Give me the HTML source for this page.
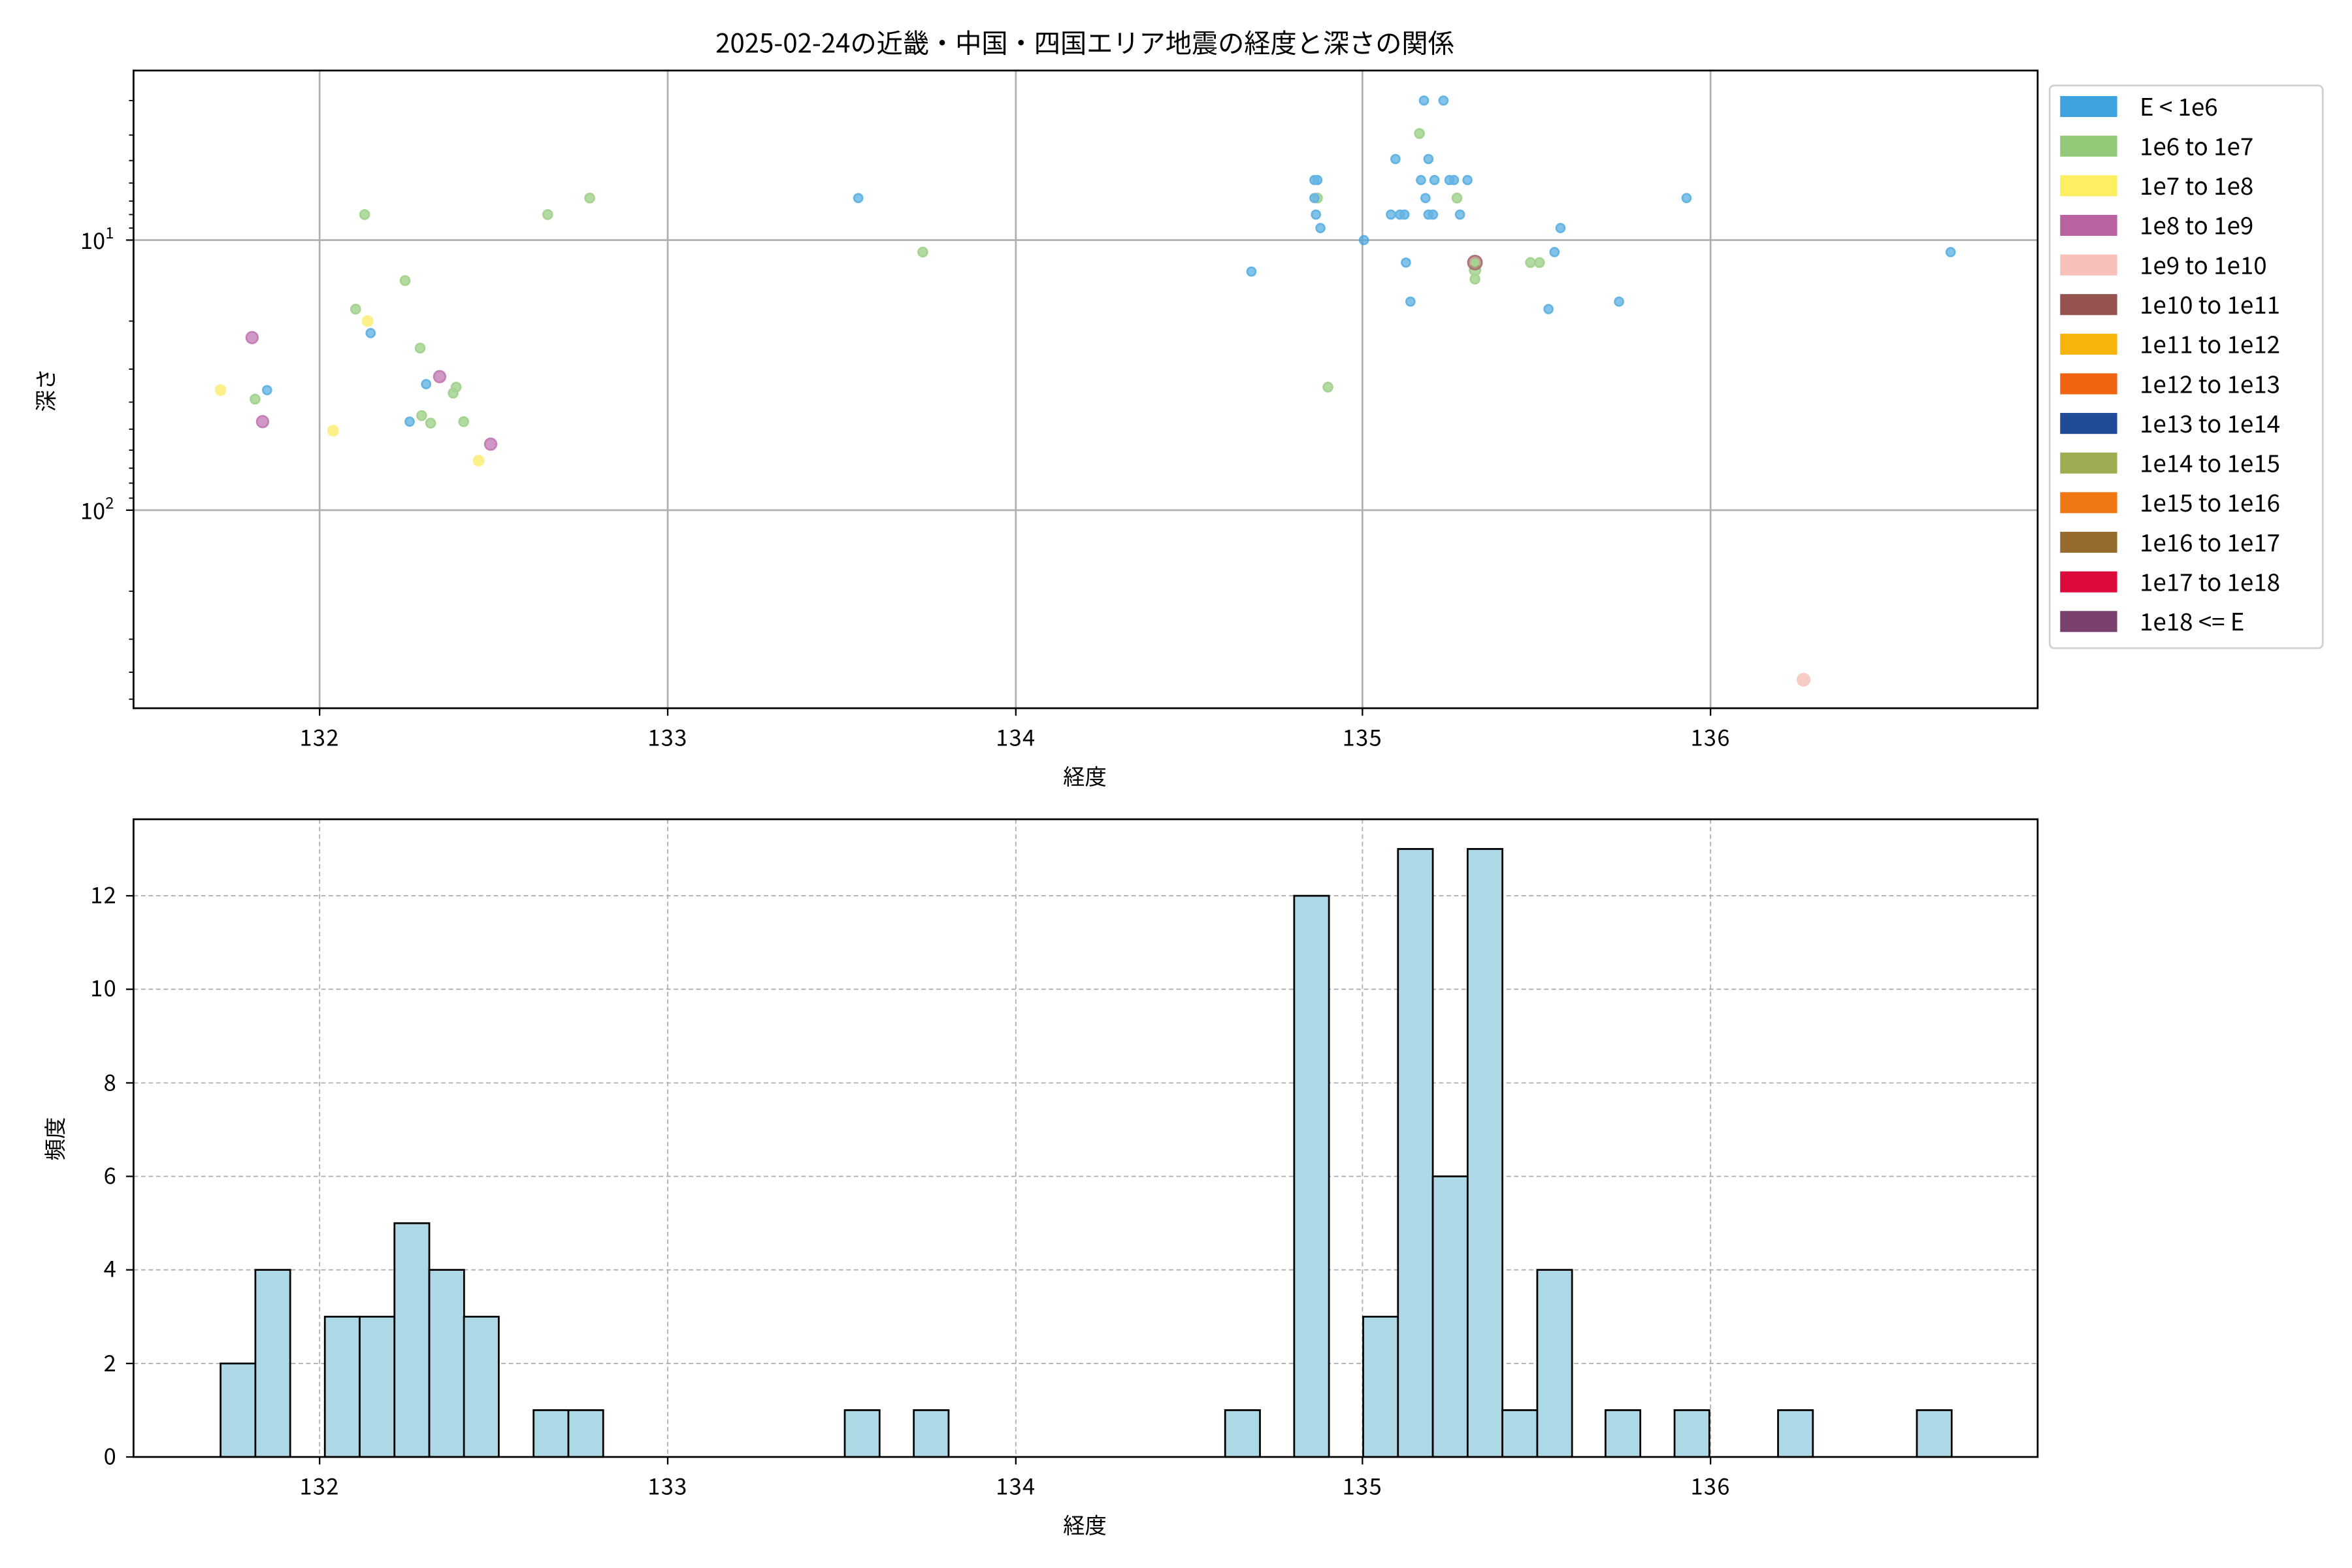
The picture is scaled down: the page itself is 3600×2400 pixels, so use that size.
<!DOCTYPE html>
<html><head><meta charset="utf-8"><style>html,body{margin:0;padding:0;background:#fff}svg{display:block}</style></head>
<body>
<svg width="3600" height="2400" viewBox="0 0 1567.5 1045" preserveAspectRatio="none" xmlns="http://www.w3.org/2000/svg" font-family="'Noto Sans CJK JP','Liberation Sans',sans-serif">
<rect width="1568" height="1045" fill="#fff"/>
<text x="723" y="35" font-size="17.5" text-anchor="middle">2025-02-24の近畿・中国・四国エリア地震の経度と深さの関係</text>
<g stroke="#b0b0b0" stroke-width="1.2">
<line x1="213" y1="47" x2="213" y2="472"/><line x1="445" y1="47" x2="445" y2="472"/><line x1="677" y1="47" x2="677" y2="472"/><line x1="908" y1="47" x2="908" y2="472"/><line x1="1140" y1="47" x2="1140" y2="472"/>
<line x1="89" y1="160" x2="1358" y2="160"/><line x1="89" y1="340" x2="1358" y2="340"/>
</g>
<g stroke="#000" stroke-width="0.8">
<line x1="86" y1="67" x2="89" y2="67"/><line x1="86" y1="90" x2="89" y2="90"/><line x1="86" y1="107" x2="89" y2="107"/><line x1="86" y1="122" x2="89" y2="122"/><line x1="86" y1="134" x2="89" y2="134"/><line x1="86" y1="143" x2="89" y2="143"/><line x1="86" y1="152" x2="89" y2="152"/>
<line x1="86" y1="214" x2="89" y2="214"/><line x1="86" y1="246" x2="89" y2="246"/><line x1="86" y1="268" x2="89" y2="268"/><line x1="86" y1="286" x2="89" y2="286"/><line x1="86" y1="300" x2="89" y2="300"/><line x1="86" y1="312" x2="89" y2="312"/><line x1="86" y1="322" x2="89" y2="322"/><line x1="86" y1="332" x2="89" y2="332"/>
<line x1="86" y1="394" x2="89" y2="394"/><line x1="86" y1="426" x2="89" y2="426"/><line x1="86" y1="448" x2="89" y2="448"/><line x1="86" y1="466" x2="89" y2="466"/>
</g>
<g stroke="#000" stroke-width="1">
<line x1="84" y1="160" x2="89" y2="160"/><line x1="84" y1="340" x2="89" y2="340"/>
<line x1="213" y1="472" x2="213" y2="477"/><line x1="445" y1="472" x2="445" y2="477"/><line x1="677" y1="472" x2="677" y2="477"/><line x1="908" y1="472" x2="908" y2="477"/><line x1="1140" y1="472" x2="1140" y2="477"/>
</g>
<g font-size="15" text-anchor="end">
<text x="76" y="166">10<tspan font-size="10.5" dy="-7">1</tspan></text>
<text x="76" y="346">10<tspan font-size="10.5" dy="-7">2</tspan></text>
</g>
<g font-size="15" text-anchor="middle" letter-spacing="0.6">
<text x="213" y="497">132</text><text x="445" y="497">133</text><text x="677" y="497">134</text><text x="908" y="497">135</text><text x="1140" y="497">136</text>
</g>
<text x="723" y="523" font-size="14.5" text-anchor="middle">経度</text>
<text x="36" y="260" font-size="14.5" text-anchor="middle" transform="rotate(-90 36 260)">深さ</text>
<g opacity="0.8" stroke-width="1.2">
<g fill="#8fca76" stroke="#8fca76" fill-opacity="0.85">
<circle cx="170" cy="266" r="3"/><circle cx="237" cy="206" r="3"/><circle cx="243" cy="143" r="3"/><circle cx="270" cy="187" r="3"/><circle cx="280" cy="232" r="3"/><circle cx="281" cy="277" r="3"/><circle cx="287" cy="282" r="3"/><circle cx="302" cy="262" r="3"/><circle cx="304" cy="258" r="3"/><circle cx="309" cy="281" r="3"/><circle cx="365" cy="143" r="3"/><circle cx="393" cy="132" r="3"/><circle cx="615" cy="168" r="3"/>
<circle cx="878" cy="132" r="3"/><circle cx="885" cy="258" r="3"/><circle cx="946" cy="89" r="3"/><circle cx="971" cy="132" r="3"/><circle cx="983" cy="180" r="3.5"/><circle cx="983" cy="186" r="3"/><circle cx="1020" cy="175" r="3"/><circle cx="1026" cy="175" r="3"/>
</g>
<g fill="#fdec6d" stroke="#fdec6d">
<circle cx="147" cy="260" r="3.3"/><circle cx="222" cy="287" r="3.3"/><circle cx="245" cy="214" r="3.3"/><circle cx="319" cy="307" r="3.3"/>
</g>
<g fill="#b760a5" stroke="#b760a5" fill-opacity="0.8">
<circle cx="168" cy="225" r="3.8"/><circle cx="175" cy="281" r="3.8"/><circle cx="293" cy="251" r="3.8"/><circle cx="327" cy="296" r="3.8"/>
</g>
<circle cx="1202" cy="453" r="4" fill="#f7c0b8" stroke="#f7c0b8"/>
<circle cx="983" cy="175" r="4.6" fill="#95524e" stroke="#95524e" fill-opacity="0.7"/>
<circle cx="983" cy="175" r="2.8" fill="#8fca76"/>
<g fill="#3ea2de" stroke="#3ea2de" fill-opacity="0.8">
<circle cx="178" cy="260" r="2.8"/><circle cx="247" cy="222" r="2.8"/><circle cx="273" cy="281" r="2.8"/><circle cx="284" cy="256" r="2.8"/><circle cx="572" cy="132" r="2.8"/><circle cx="834" cy="181" r="2.8"/>
<circle cx="876" cy="120" r="2.8"/><circle cx="878" cy="120" r="2.8"/><circle cx="876" cy="132" r="2.8"/><circle cx="877" cy="143" r="2.8"/><circle cx="880" cy="152" r="2.8"/><circle cx="909" cy="160" r="2.8"/>
<circle cx="927" cy="143" r="2.8"/><circle cx="933" cy="143" r="2.8"/><circle cx="936" cy="143" r="2.8"/><circle cx="937" cy="175" r="2.8"/><circle cx="940" cy="201" r="2.8"/><circle cx="930" cy="106" r="2.8"/>
<circle cx="949" cy="67" r="2.8"/><circle cx="962" cy="67" r="2.8"/><circle cx="947" cy="120" r="2.8"/><circle cx="950" cy="132" r="2.8"/><circle cx="952" cy="106" r="2.8"/><circle cx="952" cy="143" r="2.8"/><circle cx="955" cy="143" r="2.8"/><circle cx="956" cy="120" r="2.8"/>
<circle cx="966" cy="120" r="2.8"/><circle cx="969" cy="120" r="2.8"/><circle cx="978" cy="120" r="2.8"/><circle cx="973" cy="143" r="2.8"/>
<circle cx="1036" cy="168" r="2.8"/><circle cx="1032" cy="206" r="2.8"/><circle cx="1040" cy="152" r="2.8"/><circle cx="1079" cy="201" r="2.8"/><circle cx="1124" cy="132" r="2.8"/><circle cx="1300" cy="168" r="2.8"/>
</g>
</g>
<rect x="89" y="47" width="1269" height="425" fill="none" stroke="#000" stroke-width="1.2"/>
<rect x="1366" y="57" width="182" height="375" rx="3" fill="#fff" stroke="#d0d0d0" stroke-width="1.2"/>
<g font-size="16">
<rect x="1373" y="64" width="38" height="14" fill="#3ea2de"/><text x="1426" y="77">E &lt; 1e6</text>
<rect x="1373" y="90.4" width="38" height="14" fill="#91c978"/><text x="1426" y="103.4">1e6 to 1e7</text>
<rect x="1373" y="116.8" width="38" height="14" fill="#fdee62"/><text x="1426" y="129.8">1e7 to 1e8</text>
<rect x="1373" y="143.2" width="38" height="14" fill="#b8629f"/><text x="1426" y="156.2">1e8 to 1e9</text>
<rect x="1373" y="169.6" width="38" height="14" fill="#f7c0b8"/><text x="1426" y="182.6">1e9 to 1e10</text>
<rect x="1373" y="196" width="38" height="14" fill="#95524e"/><text x="1426" y="209">1e10 to 1e11</text>
<rect x="1373" y="222.4" width="38" height="14" fill="#f7b50c"/><text x="1426" y="235.4">1e11 to 1e12</text>
<rect x="1373" y="248.8" width="38" height="14" fill="#ee6410"/><text x="1426" y="261.8">1e12 to 1e13</text>
<rect x="1373" y="275.2" width="38" height="14" fill="#1f4b97"/><text x="1426" y="288.2">1e13 to 1e14</text>
<rect x="1373" y="301.6" width="38" height="14" fill="#9ead52"/><text x="1426" y="314.6">1e14 to 1e15</text>
<rect x="1373" y="328" width="38" height="14" fill="#f07814"/><text x="1426" y="341">1e15 to 1e16</text>
<rect x="1373" y="354.4" width="38" height="14" fill="#956c2d"/><text x="1426" y="367.4">1e16 to 1e17</text>
<rect x="1373" y="380.8" width="38" height="14" fill="#dc0a3c"/><text x="1426" y="393.8">1e17 to 1e18</text>
<rect x="1373" y="407.2" width="38" height="14" fill="#7a406e"/><text x="1426" y="420.2">1e18 &lt;= E</text>
</g>
<g stroke="#b0b0b0" stroke-width="0.8" stroke-dasharray="3,2">
<line x1="213" y1="546" x2="213" y2="971"/><line x1="445" y1="546" x2="445" y2="971"/><line x1="677" y1="546" x2="677" y2="971"/><line x1="908" y1="546" x2="908" y2="971"/><line x1="1140" y1="546" x2="1140" y2="971"/>
<line x1="89" y1="908.7" x2="1358" y2="908.7"/><line x1="89" y1="846.3" x2="1358" y2="846.3"/><line x1="89" y1="784" x2="1358" y2="784"/><line x1="89" y1="721.7" x2="1358" y2="721.7"/><line x1="89" y1="659.3" x2="1358" y2="659.3"/><line x1="89" y1="597" x2="1358" y2="597"/>
</g>
<g fill="#add8e6" stroke="#000" stroke-width="1.2">
<rect x="147" y="908.7" width="23.2" height="62.3"/>
<rect x="170.2" y="846.3" width="23.2" height="124.7"/>
<rect x="216.5" y="877.5" width="23.2" height="93.5"/>
<rect x="239.7" y="877.5" width="23.2" height="93.5"/>
<rect x="262.9" y="815.2" width="23.2" height="155.8"/>
<rect x="286.1" y="846.3" width="23.2" height="124.7"/>
<rect x="309.2" y="877.5" width="23.2" height="93.5"/>
<rect x="355.6" y="939.8" width="23.2" height="31.2"/>
<rect x="378.8" y="939.8" width="23.2" height="31.2"/>
<rect x="563" y="939.8" width="23.2" height="31.2"/>
<rect x="609" y="939.8" width="23.2" height="31.2"/>
<rect x="816.5" y="939.8" width="23.2" height="31.2"/>
<rect x="862.5" y="597" width="23.2" height="374"/>
<rect x="908.5" y="877.5" width="23.2" height="93.5"/>
<rect x="931.7" y="565.8" width="23.2" height="405.2"/>
<rect x="954.9" y="784" width="23.2" height="187"/>
<rect x="978.1" y="565.8" width="23.2" height="405.2"/>
<rect x="1001.3" y="939.8" width="23.2" height="31.2"/>
<rect x="1024.5" y="846.3" width="23.2" height="124.7"/>
<rect x="1070" y="939.8" width="23.2" height="31.2"/>
<rect x="1116" y="939.8" width="23.2" height="31.2"/>
<rect x="1185" y="939.8" width="23.2" height="31.2"/>
<rect x="1277.5" y="939.8" width="23.2" height="31.2"/>
</g>
<rect x="89" y="546" width="1269" height="425" fill="none" stroke="#000" stroke-width="1.2"/>
<g stroke="#000" stroke-width="1">
<line x1="213" y1="971" x2="213" y2="976"/><line x1="445" y1="971" x2="445" y2="976"/><line x1="677" y1="971" x2="677" y2="976"/><line x1="908" y1="971" x2="908" y2="976"/><line x1="1140" y1="971" x2="1140" y2="976"/>
<line x1="84" y1="971" x2="89" y2="971"/><line x1="84" y1="908.7" x2="89" y2="908.7"/><line x1="84" y1="846.3" x2="89" y2="846.3"/><line x1="84" y1="784" x2="89" y2="784"/><line x1="84" y1="721.7" x2="89" y2="721.7"/><line x1="84" y1="659.3" x2="89" y2="659.3"/><line x1="84" y1="597" x2="89" y2="597"/>
</g>
<g font-size="15" text-anchor="end" letter-spacing="0.6">
<text x="78" y="976">0</text><text x="78" y="914">2</text><text x="78" y="851">4</text><text x="78" y="789">6</text><text x="78" y="727">8</text><text x="78" y="664">10</text><text x="78" y="602">12</text>
</g>
<g font-size="15" text-anchor="middle" letter-spacing="0.6">
<text x="213" y="996">132</text><text x="445" y="996">133</text><text x="677" y="996">134</text><text x="908" y="996">135</text><text x="1140" y="996">136</text>
</g>
<text x="723" y="1022" font-size="14.5" text-anchor="middle">経度</text>
<text x="42" y="759" font-size="14.5" text-anchor="middle" transform="rotate(-90 42 759)">頻度</text>
</svg>
</body></html>
